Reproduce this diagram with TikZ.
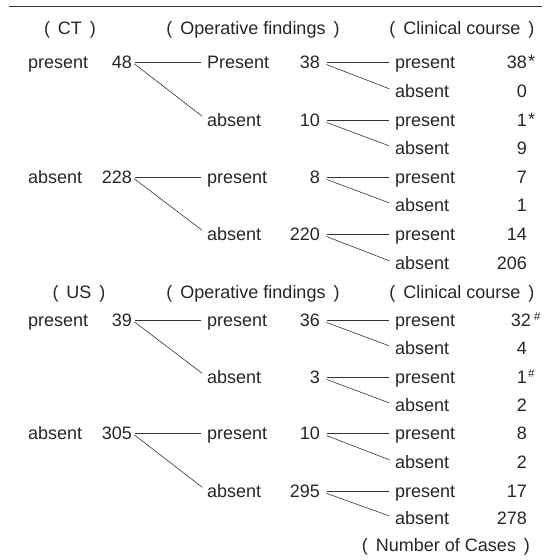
\documentclass[tikz,border=0pt]{standalone}
\usepackage{fontspec}
\setmainfont{Liberation Sans}
\newcommand\dgfont{\fontsize{18}{21}\selectfont}
\newcommand\dgsmall{\fontsize{11.5}{13}\selectfont}
\newcommand\pp[1]{(\hspace{8pt}#1\hspace{8pt})}
\definecolor{txt}{HTML}{262626}
\definecolor{linec}{HTML}{333333}
\begin{document}
\begin{tikzpicture}[x=1pt,y=-1pt,
  every node/.style={inner sep=0pt, text height=12.9pt, text depth=0pt, font=\dgfont, text=txt},
  lab/.style={anchor=west},
  num/.style={anchor=east},
  hdr/.style={anchor=center},
  starmark/.style={anchor=west},
  smark/.style={anchor=north west, font=\dgsmall, text height=8pt},
  conn/.style={draw=linec, line width=0.6pt, shorten <=3pt, shorten >=6pt},
  conn2/.style={conn, shorten <=7pt}]
\useasboundingbox (0,0) rectangle (549,560);
\draw[linec, line width=0.9pt] (9,6) -- (542,6);
% ---------- CT ----------
\node[hdr] (hct) at (70,28) {\pp{CT}};
\node[hdr] (hof1) at (253,28) {\pp{Operative findings}};
\node[hdr] (hcc1) at (462,28) {\pp{Clinical course}};
\node[lab] (a1) at (28,62) {present};  \node[num] (a1n) at (132,62) {48};
\node[lab] (a2) at (28,177) {absent};  \node[num] (a2n) at (132,177) {228};
\node[lab] (b1) at (207,62) {Present}; \node[num] (b1n) at (320,62) {38};
\node[lab] (b2) at (207,120) {absent}; \node[num] (b2n) at (320,120) {10};
\node[lab] (b3) at (207,177) {present};\node[num] (b3n) at (320,177) {8};
\node[lab] (b4) at (207,234) {absent}; \node[num] (b4n) at (320,234) {220};
\node[lab] (c1) at (395,62) {present}; \node[num] (c1n) at (527,62) {38};
\node[starmark] (c1s) at ([xshift=1pt,yshift=1pt]c1n.east) {*};
\node[lab] (c2) at (395,91) {absent};  \node[num] (c2n) at (527,91) {0};
\node[lab] (c3) at (395,120) {present};\node[num] (c3n) at (527,120) {1};
\node[starmark] (c3s) at ([xshift=1pt,yshift=1pt]c3n.east) {*};
\node[lab] (c4) at (395,148) {absent}; \node[num] (c4n) at (527,148) {9};
\node[lab] (c5) at (395,177) {present};\node[num] (c5n) at (527,177) {7};
\node[lab] (c6) at (395,205) {absent}; \node[num] (c6n) at (527,205) {1};
\node[lab] (c7) at (395,234) {present};\node[num] (c7n) at (527,234) {14};
\node[lab] (c8) at (395,263) {absent}; \node[num] (c8n) at (527,263) {206};
\draw[conn] (a1n.east) -- (b1.west);
\draw[conn] (a1n.east) -- (b2.west);
\draw[conn] (a2n.east) -- (b3.west);
\draw[conn] (a2n.east) -- (b4.west);
\draw[conn2] (b1n.east) -- (c1.west);
\draw[conn2] (b1n.east) -- (c2.west);
\draw[conn2] (b2n.east) -- (c3.west);
\draw[conn2] (b2n.east) -- (c4.west);
\draw[conn2] (b3n.east) -- (c5.west);
\draw[conn2] (b3n.east) -- (c6.west);
\draw[conn2] (b4n.east) -- (c7.west);
\draw[conn2] (b4n.east) -- (c8.west);
% ---------- US ----------
\node[hdr] (hus) at (79,292) {\pp{US}};
\node[hdr] (hof2) at (253,292) {\pp{Operative findings}};
\node[hdr] (hcc2) at (462,292) {\pp{Clinical course}};
\node[lab] (a3) at (28,320) {present};  \node[num] (a3n) at (132,320) {39};
\node[lab] (a4) at (28,433) {absent};   \node[num] (a4n) at (132,433) {305};
\node[lab] (b5) at (207,320) {present}; \node[num] (b5n) at (320,320) {36};
\node[lab] (b6) at (207,377) {absent};  \node[num] (b6n) at (320,377) {3};
\node[lab] (b7) at (207,433) {present}; \node[num] (b7n) at (320,433) {10};
\node[lab] (b8) at (207,491) {absent};  \node[num] (b8n) at (320,491) {295};
\node[lab] (c9) at (395,320) {present}; \node[num] (c9n) at (531,320) {32};
\node[smark] (c9s) at ([xshift=3pt,yshift=1pt]c9n.north east) {\#};
\node[lab] (c10) at (395,348) {absent}; \node[num] (c10n) at (527,348) {4};
\node[lab] (c11) at (395,377) {present};\node[num] (c11n) at (527,377) {1};
\node[smark] (c11s) at ([xshift=1pt,yshift=1pt]c11n.north east) {\#};
\node[lab] (c12) at (395,405) {absent}; \node[num] (c12n) at (527,405) {2};
\node[lab] (c13) at (395,433) {present};\node[num] (c13n) at (527,433) {8};
\node[lab] (c14) at (395,462) {absent}; \node[num] (c14n) at (527,462) {2};
\node[lab] (c15) at (395,491) {present};\node[num] (c15n) at (527,491) {17};
\node[lab] (c16) at (395,518) {absent}; \node[num] (c16n) at (527,518) {278};
\node[hdr] (hnc) at (446,545) {\pp{Number of Cases}};
\draw[conn] (a3n.east) -- (b5.west);
\draw[conn] (a3n.east) -- (b6.west);
\draw[conn] (a4n.east) -- (b7.west);
\draw[conn] (a4n.east) -- (b8.west);
\draw[conn2] (b5n.east) -- (c9.west);
\draw[conn2] (b5n.east) -- (c10.west);
\draw[conn2] (b6n.east) -- (c11.west);
\draw[conn2] (b6n.east) -- (c12.west);
\draw[conn2] (b7n.east) -- (c13.west);
\draw[conn2] (b7n.east) -- (c14.west);
\draw[conn2] (b8n.east) -- (c15.west);
\draw[conn2] (b8n.east) -- (c16.west);
\end{tikzpicture}
\end{document}
